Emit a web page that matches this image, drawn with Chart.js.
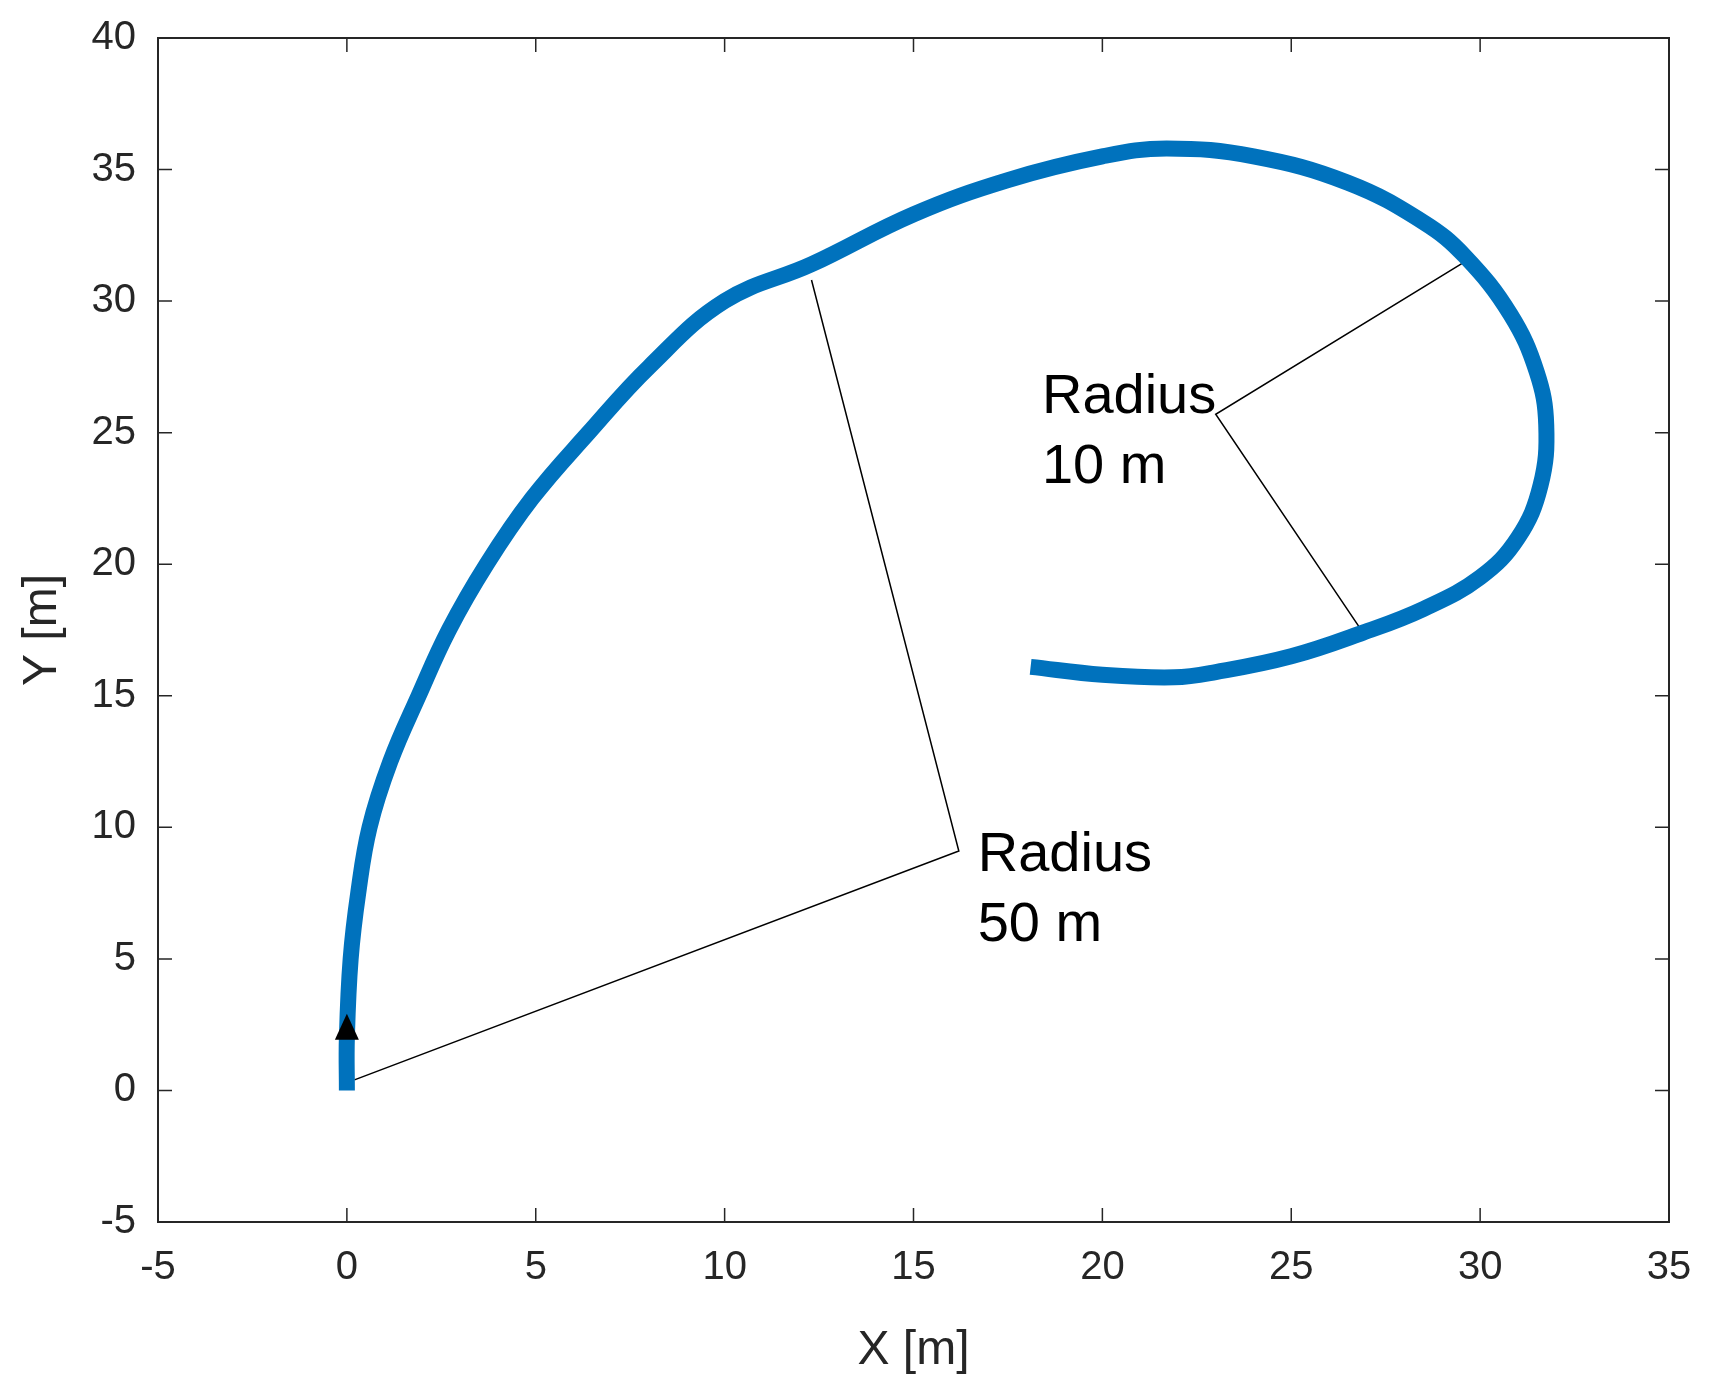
<!DOCTYPE html><html><head><script src="https://cdn.jsdelivr.net/npm/chart.js@4"></script>
<style>body{margin:0;background:#fff}#w{width:1711px;height:1384px}</style></head><body><div id="w"><canvas id="c"></canvas></div>
<script>
const pathX=[0,0,0.1,0.3,0.6,1.15,1.9,2.7,3.7,4.9,6.4,8.0,10,12.3,15,17.5,20,21.7,24,26.5,28.5,29.6,30.8,31.5,31.75,31.6,31,30,28.5,26.9,25,23,21.9,20,18.1];
const pathY=[0,2,5,7.5,10,12.5,15,17.5,20,22.5,25,27.5,30,31.4,33.3,34.6,35.5,35.8,35.5,34.5,33,31.7,29.5,27.3,25.3,23,21,19.5,18.3,17.4,16.5,15.9,15.7,15.8,16.1];
const r50X=[0.2,16.2,12.3], r50Y=[0.4,9.1,30.8];
const r10X=[29.6,23,26.9], r10Y=[31.5,25.7,17.4];
const arrowX=[0,0], arrowY=[0.3,2.0];
const labels=[{x:16.7,y:10.0,t:["Radius","50 m"]},{x:18.4,y:27.4,t:["Radius","10 m"]}];
const ticks=[-5,0,5,10,15,20,25,30,35,40];
const pts=(xs,ys)=>xs.map((x,i)=>({x,y:ys[i]}));
const deco={id:'deco',afterDraw(ch){const c=ch.ctx,a=ch.chartArea,sx=ch.scales.x,sy=ch.scales.y;
c.save();c.strokeStyle='#262626';c.lineWidth=2;c.strokeRect(a.left,a.top,a.right-a.left,a.bottom-a.top);
c.lineWidth=1.5;
for(let v=-5;v<=35;v+=5){const p=sx.getPixelForValue(v);c.beginPath();c.moveTo(p,a.bottom);c.lineTo(p,a.bottom-14);c.moveTo(p,a.top);c.lineTo(p,a.top+14);c.stroke();}
for(let v=-5;v<=40;v+=5){const p=sy.getPixelForValue(v);c.beginPath();c.moveTo(a.left,p);c.lineTo(a.left+14,p);c.moveTo(a.right,p);c.lineTo(a.right-14,p);c.stroke();}
c.fillStyle='#000';c.font='56px Arial, "Liberation Sans"';c.textBaseline='top';
labels.forEach(l=>{const x=sx.getPixelForValue(l.x),y=sy.getPixelForValue(l.y);l.t.forEach((s,i)=>c.fillText(s,x,y+i*70));});
const ax=sx.getPixelForValue(arrowX[1]),ay=sy.getPixelForValue(arrowY[1]);
c.beginPath();c.moveTo(ax,ay-24);c.lineTo(ax-12,ay+2);c.lineTo(ax+12,ay+2);c.closePath();c.fill();
c.restore();}};
new Chart(document.getElementById('c'),{type:'scatter',
data:{datasets:[
{data:pts(pathX,pathY),showLine:true,borderColor:'#0072BD',borderWidth:16,pointRadius:0,tension:0.4,borderCapStyle:'butt',borderJoinStyle:'round'},
{data:pts(r50X,r50Y),showLine:true,borderColor:'#000',borderWidth:1.5,pointRadius:0},
{data:pts(r10X,r10Y),showLine:true,borderColor:'#000',borderWidth:1.5,pointRadius:0},
{data:pts(arrowX,arrowY),showLine:true,borderColor:'#000',borderWidth:4,pointRadius:0}
]},
options:{responsive:true,maintainAspectRatio:false,animation:false,
layout:{padding:{left:10,right:42,top:31,bottom:0}},
plugins:{legend:{display:false},tooltip:{enabled:false}},
scales:{
x:{type:'linear',min:-5,max:35,afterBuildTicks:s=>{s.ticks=ticks.slice(0,9).map(v=>({value:v}))},afterFit:s=>{s.height=162},
grid:{display:false},border:{display:false},
ticks:{color:'#262626',font:{size:40,family:'Arial, "Liberation Sans"'},padding:14,maxRotation:0},
title:{display:true,text:'X [m]',color:'#262626',font:{size:48,family:'Arial, "Liberation Sans"'},padding:{top:4}}},
y:{type:'linear',min:-5,max:40,afterBuildTicks:s=>{s.ticks=ticks.map(v=>({value:v}))},afterFit:s=>{s.width=148},
grid:{display:false},border:{display:false},
ticks:{color:'#262626',font:{size:40,family:'Arial, "Liberation Sans"'},padding:14},
title:{display:true,text:'Y [m]',color:'#262626',font:{size:48,family:'Arial, "Liberation Sans"'},padding:{bottom:6}}}}},
plugins:[deco]});
</script></body></html>
